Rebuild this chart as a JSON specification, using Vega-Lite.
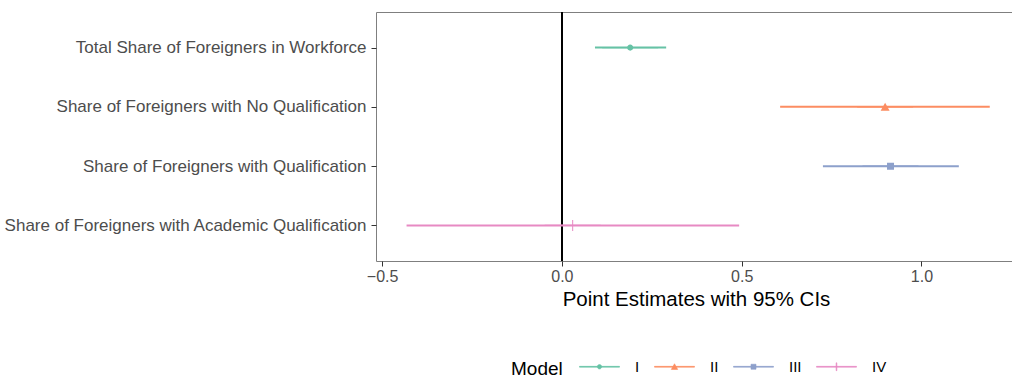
{
  "$schema": "https://vega.github.io/schema/vega-lite/v6.json",
  "autosize": {"type": "none"},
  "padding": {"left": 376, "top": 12, "right": 0, "bottom": 116},
  "width": 640,
  "height": 249,
  "background": "white",
  "config": {
    "font": "Liberation Sans",
    "view": {"stroke": "#7f7f7f", "strokeWidth": 1},
    "axis": {"grid": false, "domain": false, "tickColor": "#333333", "tickSize": 5, "labelColor": "#4d4d4d"}
  },
  "data": {
    "values": [
      {"term": "Total Share of Foreigners in Workforce", "model": "I", "est": 0.19, "lo": 0.092, "hi": 0.29},
      {"term": "Share of Foreigners with No Qualification", "model": "II", "est": 0.899, "lo": 0.607, "hi": 1.19},
      {"term": "Share of Foreigners with Qualification", "model": "III", "est": 0.914, "lo": 0.726, "hi": 1.104},
      {"term": "Share of Foreigners with Academic Qualification", "model": "IV", "est": 0.03, "lo": -0.432, "hi": 0.493}
    ]
  },
  "encoding": {
    "y": {
      "field": "term", "type": "nominal", "sort": null,
      "scale": {"type": "point", "padding": 0.6},
      "axis": {"title": null, "labelFontSize": 17, "labelPadding": 5, "labelLimit": 400}
    }
  },
  "layer": [
    {
      "mark": {"type": "rule", "color": "black", "strokeWidth": 1.8},
      "encoding": {"x": {"datum": 0, "type": "quantitative"}, "y": null}
    },
    {
      "mark": {"type": "point", "filled": true, "opacity": 1, "strokeWidth": 0, "size": 3136},
      "encoding": {
        "x": {"field": "est", "type": "quantitative"},
        "color": {
          "field": "model", "type": "nominal", "title": "Model",
          "scale": {"domain": ["I", "II", "III", "IV"], "range": ["#66C2A5", "#FC8D62", "#8DA0CB", "#E78AC3"]},
          "legend": {
            "orient": "none", "direction": "horizontal",
            "legendX": 135, "legendY": 334,
            "titleOrient": "left", "titleFontSize": 19, "titleFontWeight": "normal", "titleColor": "black",
            "titlePadding": 16, "titleBaseline": "top",
            "labelFontSize": 15, "labelColor": "black", "labelOffset": 15,
            "columnPadding": 13, "symbolSize": 1600, "symbolStrokeWidth": 0.6
          }
        },
        "shape": {
          "field": "model", "type": "nominal", "title": "Model",
          "scale": {"domain": ["I", "II", "III", "IV"], "range": [
            "M-1,-0.02H1V0.02H-1Z M0.11,0A0.11,0.11 0 1,1 -0.11,0A0.11,0.11 0 1,1 0.11,0Z",
            "M-1,-0.02H1V0.02H-1Z M0,-0.15L0.16,0.135H-0.16Z",
            "M-1,-0.02H1V0.02H-1Z M-0.125,-0.125H0.125V0.125H-0.125Z",
            "M-1,-0.02H1V0.02H-1Z M-0.018,-0.196H0.018V0.196H-0.018Z"
          ]}
        }
      }
    },
    {
      "mark": {"type": "rule", "strokeWidth": 2},
      "encoding": {
        "x": {
          "field": "lo", "type": "quantitative",
          "scale": {"domain": [-0.517, 1.263], "nice": false, "zero": false},
          "axis": {
            "values": [-0.5, 0, 0.5, 1], "format": ".1f",
            "title": "Point Estimates with 95% CIs",
            "labelFontSize": 16, "labelPadding": 2,
            "titleFontSize": 20.5, "titleFontWeight": "normal", "titleColor": "black", "titlePadding": 5
          }
        },
        "x2": {"field": "hi"},
        "stroke": {
          "field": "model", "type": "nominal", "title": "Model",
          "scale": {"domain": ["I", "II", "III", "IV"], "range": ["#66C2A5", "#FC8D62", "#8DA0CB", "#E78AC3"]}
        }
      }
    }
  ]
}
